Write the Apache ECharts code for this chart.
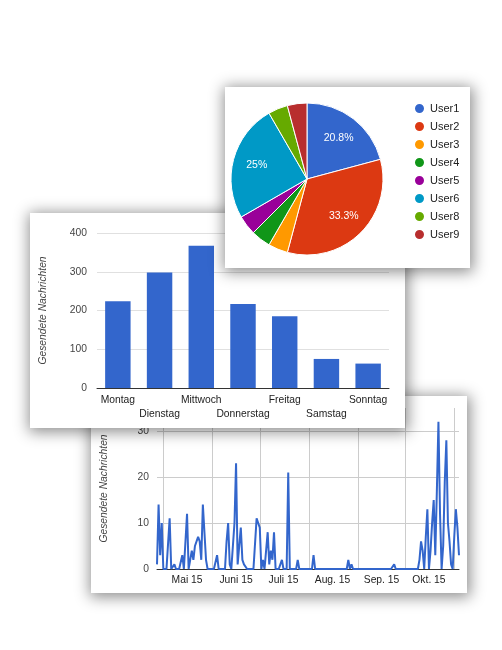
<!DOCTYPE html>
<html>
<head>
<meta charset="utf-8">
<script src="https://cdn.jsdelivr.net/npm/echarts@6/dist/echarts.min.js"></script>
<style>
    body { margin: 0; background: #fff; }
    .card { position: absolute; background: #fff; box-shadow: 1px 2px 14px 2px rgba(0,0,0,0.45); }
    #line { left: 91px; top: 396px; width: 376px; height: 197px; z-index: 1; }
    #bar { left: 30px; top: 213px; width: 375px; height: 215px; z-index: 2; }
    #pie { left: 225px; top: 87px; width: 245px; height: 181px; z-index: 3; }
</style>
</head>
<body>
<div id="line" class="card"></div>
<div id="bar" class="card"></div>
<div id="pie" class="card"></div>
<script>
let $ = a=>document.querySelector(a)

const font = 'Liberation Sans, Arial, sans-serif'
const axisTitle = 'Gesendete Nachrichten'

// pie: messages per user
const users = ['User1', 'User2', 'User3', 'User4', 'User5', 'User6', 'User8', 'User9']
const userMessages = [5, 8, 1, 1, 1, 6, 1, 1]
const userColors = ['#3366cc', '#dc3912', '#ff9900', '#109618', '#990099', '#0099c6', '#66aa00', '#b82e2e']

// bars: messages per weekday
const weekdays = ['Montag', 'Dienstag', 'Mittwoch', 'Donnerstag', 'Freitag', 'Samstag', 'Sonntag']
const weekdayMessages = [224, 298, 367, 217, 185, 75, 63]
const barTicks = [0, 100, 200, 300, 400]

// line: messages per day, starting 27.04.2015
const firstDay = '2015-04-27'
const dailyMessages = [
    1, 14, 3, 10, 0, 0, 0, 0, 11, 0,
    0, 1, 0, 0, 0, 0, 3, 0, 0, 12,
    0, 0, 4, 2, 5, 5, 7, 6, 2, 14,
    8, 2, 0, 0, 0, 0, 0, 0, 3, 0,
    0, 0, 0, 0, 6, 10, 1, 0, 0, 10,
    23, 1, 1, 9, 2, 1, 1, 0, 0, 0,
    0, 0, 0, 11, 10, 9, 0, 2, 0, 0,
    8, 1, 4, 2, 8, 0, 0, 0, 0, 2,
    0, 0, 0, 21, 0, 0, 0, 0, 0, 2,
    0, 0, 0, 0, 0, 0, 0, 0, 0, 3,
    0, 0, 0, 0, 0, 0, 0, 0, 0, 0,
    0, 0, 0, 0, 0, 0, 0, 0, 0, 0,
    0, 2, 0, 1, 0, 0, 0, 0, 0, 0,
    0, 0, 0, 0, 0, 0, 0, 0, 0, 0,
    0, 0, 0, 0, 0, 0, 0, 0, 0, 0,
    1, 0, 0, 0, 0, 0, 0, 0, 0, 0,
    0, 0, 0, 0, 0, 0, 2, 6, 4, 0,
    7, 13, 0, 4, 10, 15, 3, 17, 32, 12,
    0, 5, 19, 28, 10, 6, 1, 0, 7, 13,
    9, 3
]
// month labels, Mai .. Okt
const monthTicks = ['Mai 15', 'Juni 15', 'Juli 15', 'Aug. 15', 'Sep. 15', 'Okt. 15']
const lineTicks = [0, 10, 20, 30]

// Datumsliste
let days = []
{
    let t = Date.parse(firstDay + 'T00:00:00Z')
    for (let i = 0; i < dailyMessages.length; i++) {
        days.push(new Date(t + i * 86400000).toISOString().slice(0, 10))
    }
}

// Kreisdiagramm
{
    let total = userMessages.reduce((a, b) => a + b, 0)
    let slices = users.map((u, i) => ({ name: u, value: userMessages[i], itemStyle: { color: userColors[i] } }))
    echarts.init($('#pie')).setOption({
        animation: false,
        textStyle: { fontFamily: font },
        legend: {
            orient: 'vertical',
            left: 183,
            top: 10,
            padding: 5,
            icon: 'circle',
            itemWidth: 11,
            itemHeight: 11,
            itemGap: 5,
            textStyle: { fontSize: 11, color: '#222', fontFamily: font },
            data: users
        },
        series: [
            {
                type: 'pie',
                center: [82, 92],
                radius: 76,
                label: { show: false },
                labelLine: { show: false },
                itemStyle: { borderColor: '#fff', borderWidth: 1 },
                data: slices
            },
            {
                // nur für die Prozent-Beschriftung
                type: 'pie',
                silent: true,
                center: [82, 92],
                radius: [22, 76],
                itemStyle: { color: 'rgba(0,0,0,0)', borderWidth: 0 },
                labelLine: { show: false },
                label: {
                    show: true,
                    position: 'inside',
                    color: '#fff',
                    fontSize: 10.5,
                    fontFamily: font,
                    formatter: p => {
                        let pct = p.value / total * 100
                        if (pct < 10) return ''
                        return String(Math.round(pct * 10) / 10) + '%'
                    }
                },
                data: users.map((u, i) => ({ name: u, value: userMessages[i] }))
            }
        ]
    })
}

// Säulendiagramm
{
    echarts.init($('#bar')).setOption({
        animation: false,
        textStyle: { fontFamily: font },
        grid: { left: 64, right: 16, top: 20, bottom: 40 },
        xAxis: {
            type: 'category',
            data: weekdays,
            axisTick: { show: false },
            axisLine: { lineStyle: { color: '#333', width: 1 } },
            axisLabel: {
                interval: 0,
                margin: 5,
                fontSize: 10.3,
                lineHeight: 14,
                color: '#222',
                formatter: (v, i) => i % 2 ? '\n' + v : v
            }
        },
        yAxis: {
            type: 'value',
            min: barTicks[0],
            max: barTicks[barTicks.length - 1],
            interval: barTicks[1] - barTicks[0],
            axisLine: { show: false },
            axisTick: { show: false },
            axisLabel: { margin: 10, fontSize: 10.3, color: '#444' },
            splitLine: { lineStyle: { color: '#e0e0e0' } },
            name: axisTitle,
            nameLocation: 'middle',
            nameRotate: 90,
            nameGap: 49,
            nameTextStyle: { fontSize: 10.3, fontStyle: 'italic', color: '#444' }
        },
        series: [{
            type: 'bar',
            barCategoryGap: '39%',
            itemStyle: { color: '#3366cc' },
            data: weekdayMessages
        }]
    })
}

// Liniendiagramm
{
    echarts.init($('#line')).setOption({
        animation: false,
        textStyle: { fontFamily: font },
        grid: { left: 63.7, right: 8, top: 12, bottom: 24 },
        xAxis: {
            type: 'category',
            data: days,
            boundaryGap: false,
            axisTick: { show: false },
            axisLine: { lineStyle: { color: '#333', width: 1 } },
            axisLabel: {
                interval: (i, v) => v.slice(8) === '16',
                margin: 6,
                fontSize: 10.3,
                color: '#222',
                formatter: v => monthTicks[+v.slice(5, 7) - 5] || ''
            },
            splitLine: {
                show: true,
                interval: (i, v) => v.slice(8) === '01',
                lineStyle: { color: '#ccc' }
            }
        },
        yAxis: {
            type: 'value',
            min: 0,
            max: 35,
            interval: lineTicks[1] - lineTicks[0],
            axisLine: { show: false },
            axisTick: { show: false },
            axisLabel: { margin: 8, fontSize: 10.3, color: '#444', showMaxLabel: false },
            splitLine: { lineStyle: { color: '#ccc' }, showMaxLine: false },
            name: axisTitle,
            nameLocation: 'middle',
            nameRotate: 90,
            nameGap: 48,
            nameTextStyle: { fontSize: 10.3, fontStyle: 'italic', color: '#444' }
        },
        series: [{
            type: 'line',
            showSymbol: false,
            lineStyle: { color: '#3366cc', width: 2 },
            itemStyle: { color: '#3366cc' },
            data: dailyMessages
        }]
    })
}
</script>
</body>
</html>
